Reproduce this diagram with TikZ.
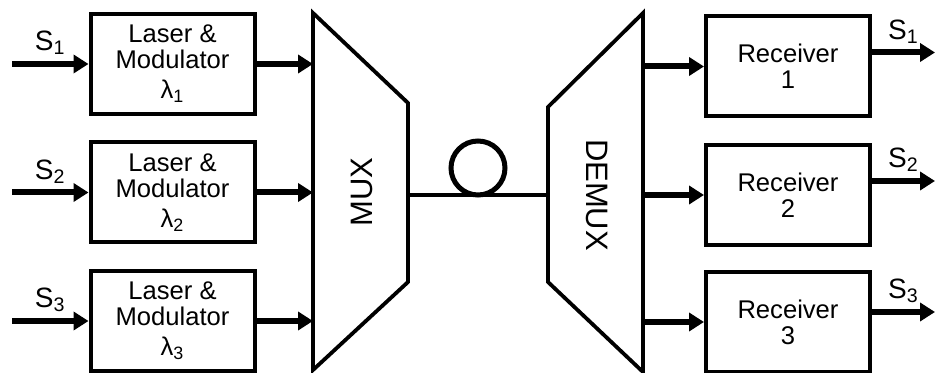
\documentclass[tikz,border=0pt]{standalone}
\usepackage{fontspec}
\setmainfont{Liberation Sans}
\usetikzlibrary{arrows.meta, positioning}
\tikzset{
  unitbox/.style={
    draw, line width=2pt,
    minimum width=82pt, minimum height=50pt,
    align=center, inner sep=0pt,
    font=\fontsize{12.8}{13}\selectfont
  },
  laserbox/.style={unitbox},
  rcvbox/.style={unitbox},
  muxline/.style={line width=1.9pt, line join=miter},
  muxlabel/.style={font=\fontsize{15.5}{15.5}\selectfont, inner sep=0pt},
  fibre/.style={line width=1.9pt},
  spool/.style={draw, circle, line width=2.5pt, minimum size=27pt, inner sep=0pt},
  sigarrow/.style={-{Triangle[length=7.5pt,width=9pt]}, line width=3pt},
  siglabel/.style={font=\fontsize{14}{14}\selectfont, inner sep=1pt}
}

\begin{document}
\begin{tikzpicture}[x=0.5pt, y=-0.5pt]
  \useasboundingbox (0,0) rectangle (936,373);

  % Transmitters
  \node[laserbox] (las1) at (172.5,64) {Laser \&\\Modulator\\[2pt]λ\textsubscript{1}};
  \node[laserbox] (las2) at (172.5,192.5) {Laser \&\\Modulator\\[2pt]λ\textsubscript{2}};
  \node[laserbox] (las3) at (172.5,321) {Laser \&\\Modulator\\[2pt]λ\textsubscript{3}};

  % Receivers
  \node[rcvbox] (rcv1) at (788,66.5) {Receiver\\1};
  \node[rcvbox] (rcv2) at (788,195) {Receiver\\2};
  \node[rcvbox] (rcv3) at (788,322) {Receiver\\3};

  % MUX corners
  \coordinate (muxtl) at (313,13);
  \coordinate (muxtr) at (408,103);
  \coordinate (muxbr) at (408,282);
  \coordinate (muxbl) at (313,370);
  \coordinate (muxout) at (408,195);

  % DEMUX corners
  \coordinate (dmxtl) at (548,107);
  \coordinate (dmxtr) at (643,13);
  \coordinate (dmxbr) at (643,372);
  \coordinate (dmxbl) at (548,282);
  \coordinate (dmxin) at (548,195);

  % Free ends of the signal arrows
  \coordinate (srcx) at (12,0);
  \coordinate (sinkx) at (935,0);

  \draw[muxline] (muxtl) -- (muxtr) -- (muxbr) -- (muxbl) -- cycle;
  \draw[muxline] (dmxtl) -- (dmxtr) -- (dmxbr) -- (dmxbl) -- cycle;
  \node[muxlabel, rotate=90] (muxtext) at (362,192) {MUX};
  \node[muxlabel, rotate=-90] (dmxtext) at (597,195) {DEMUX};

  % Fibre with spool
  \draw[fibre] (muxout) -- (dmxin);
  \node[spool] (coil) at (478,168) {};

  % Arrows — inputs
  \draw[sigarrow] (las1.west -| srcx) -- node[siglabel, above=2pt] {S\textsubscript{1}} (las1.west);
  \draw[sigarrow] (las2.west -| srcx) -- node[siglabel, above=2pt] {S\textsubscript{2}} (las2.west);
  \draw[sigarrow] (las3.west -| srcx) -- node[siglabel, above=2pt] {S\textsubscript{3}} (las3.west);

  % Arrows — into MUX
  \draw[sigarrow] (las1.east) -- (las1.east -| muxtl);
  \draw[sigarrow] (las2.east) -- (las2.east -| muxtl);
  \draw[sigarrow] (las3.east) -- (las3.east -| muxtl);

  % Arrows — out of DEMUX
  \draw[sigarrow] (rcv1.west -| dmxtr) -- (rcv1.west);
  \draw[sigarrow] (rcv2.west -| dmxtr) -- (rcv2.west);
  \draw[sigarrow] (rcv3.west -| dmxtr) -- (rcv3.west);

  % Arrows — outputs
  \draw[sigarrow] ([yshift=7pt]rcv1.east) -- node[siglabel, above=2pt] {S\textsubscript{1}} ([yshift=7pt]rcv1.east -| sinkx);
  \draw[sigarrow] ([yshift=7pt]rcv2.east) -- node[siglabel, above=2pt] {S\textsubscript{2}} ([yshift=7pt]rcv2.east -| sinkx);
  \draw[sigarrow] ([yshift=5pt]rcv3.east) -- node[siglabel, above=2pt] {S\textsubscript{3}} ([yshift=5pt]rcv3.east -| sinkx);

\end{tikzpicture}
\end{document}
